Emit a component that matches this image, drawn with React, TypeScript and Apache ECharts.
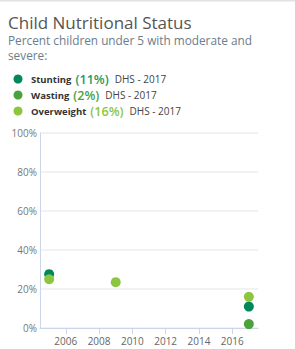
import React, { useEffect, useRef } from "react";
import * as echarts from "echarts";

const indicators = ["Stunting", "Wasting", "Overweight"];
const latestValues = ["11%", "2%", "16%"];
const sources = ["DHS - 2017", "DHS - 2017", "DHS - 2017"];
const colors = ["#00875a", "#4ba23c", "#8cc63f"];
const pctColors = ["#1a9a6a", "#4ba23c", "#8cc63f"];

const stuntingData: [number, number][] = [[2005, 27.6], [2017, 11]];
const wastingData: [number, number][] = [[2017, 2]];
const overweightData: [number, number][] = [[2005, 25], [2009, 23.5], [2017, 16]];
const yearTicks = [2006, 2008, 2010, 2012, 2014, 2016];

const FONT = "'Open Sans', sans-serif";

export default function App() {
  const ref = useRef<HTMLDivElement>(null);
  useEffect(() => {
    const chart = echarts.init(ref.current!, null, { renderer: "svg" });
    const legendRows: any[] = [];
    const rowY = [79, 95, 111];
    indicators.forEach((name, i) => {
      legendRows.push({
        type: "circle",
        shape: { cx: 18, cy: rowY[i], r: 4.5 },
        style: { fill: colors[i] },
      });
      legendRows.push({
        type: "text",
        x: 31,
        y: rowY[i],
        style: {
          text: `{n|${name}}{p|(${latestValues[i]})}{s|${sources[i]}}`,
          verticalAlign: "middle",
          rich: {
            n: { fontFamily: FONT, fontSize: 9.5, fontWeight: "bold", fill: "#333", lineHeight: 12, padding: [0, 4, 0, 0] },
            p: { fontFamily: FONT, fontSize: 12.6, fontWeight: 600, fill: pctColors[i], lineHeight: 12, padding: [0, 6, 0, 0] },
            s: { fontFamily: FONT, fontSize: 10, fill: "#444", lineHeight: 12 },
          },
        },
      });
    });
    const mk = (name: string, data: [number, number][], color: string) => ({
      name,
      type: "scatter",
      data,
      symbol: "circle",
      symbolSize: 10,
      itemStyle: { color, opacity: 1 },
    });
    chart.setOption({
      animation: false,
      grid: { left: 40, right: 37, top: 133, bottom: 21 },
      graphic: [
        { type: "rect", shape: { x: 0, y: 0, width: 295, height: 1.5 }, style: { fill: "#e2e2e2" } },
        {
          type: "text",
          x: 8,
          y: 22.5,
          style: { text: "Child Nutritional Status", fontFamily: FONT, fontSize: 17, lineHeight: 17, verticalAlign: "middle", fill: "#555", fontWeight: 400 },
        },
        {
          type: "text",
          x: 8,
          y: 40,
          style: { text: "Percent children under 5 with moderate and", fontFamily: FONT, fontSize: 11.8, lineHeight: 12, verticalAlign: "middle", fill: "#6b7d8c" },
        },
        {
          type: "text",
          x: 8,
          y: 54.5,
          style: { text: "severe:", fontFamily: FONT, fontSize: 11.8, lineHeight: 12, verticalAlign: "middle", fill: "#6b7d8c" },
        },
        ...legendRows,
      ],
      xAxis: {
        type: "value",
        min: 2004.45,
        max: 2017.55,
        splitLine: { show: false },
        axisLine: { show: true, lineStyle: { color: "#ccd6eb" } },
        axisTick: { show: true, customValues: yearTicks, length: 6, lineStyle: { color: "#ccd6eb" } },
        axisLabel: {
          customValues: yearTicks,
          formatter: (v: number) => String(Math.round(v)),
          color: "#666",
          fontSize: 10,
          fontFamily: FONT,
          margin: 8,
        },
      },
      yAxis: {
        type: "value",
        min: 0,
        max: 100,
        interval: 20,
        axisLine: { show: true, lineStyle: { color: "#ccd6eb" } },
        axisTick: { show: false },
        axisLabel: { formatter: "{value}%", color: "#777", fontSize: 10, fontFamily: FONT, margin: 3 },
        splitLine: { lineStyle: { color: "#eeeeee", width: 1.5 } },
      },
      series: [
        mk("Stunting", stuntingData, colors[0]),
        mk("Wasting", wastingData, colors[1]),
        mk("Overweight", overweightData, colors[2]),
      ],
    });
    return () => chart.dispose();
  }, []);
  return (
    <div
      ref={ref}
      style={{ position: "fixed", left: 0, top: 0, width: 295, height: 349, background: "#fff" }}
    />
  );
}
